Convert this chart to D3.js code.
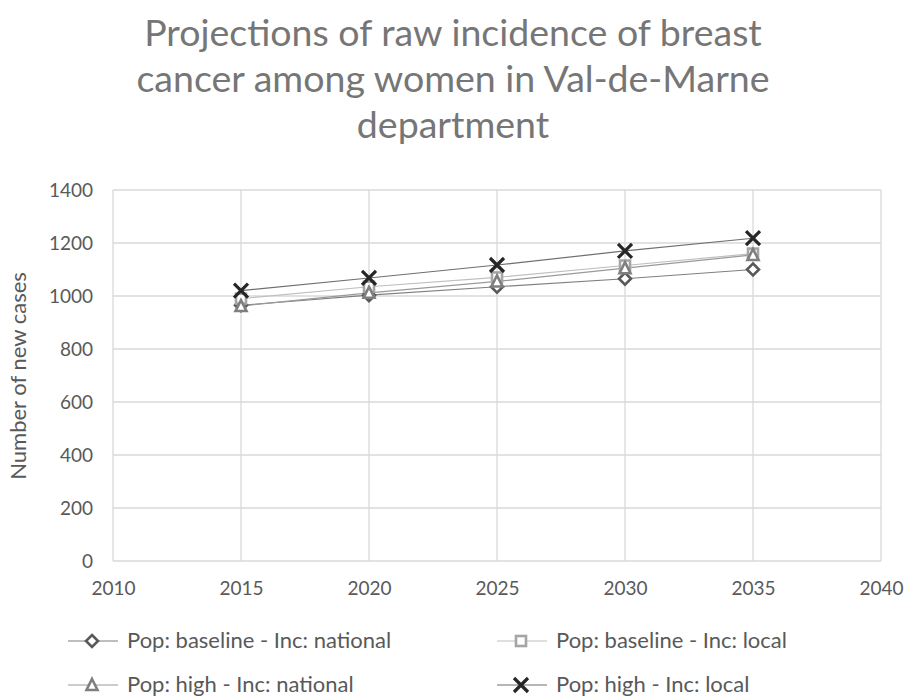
<!DOCTYPE html>
<html>
<head>
<meta charset="utf-8">
<script src="https://cdn.jsdelivr.net/npm/d3@7"></script>
<style>
  body { margin: 0; background: #fff; }
  text { font-family: Lato, "Open Sans", sans-serif; }
</style>
</head>
<body>
<svg id="chart" width="904" height="697"></svg>
<script>
// Data
var years = [2015, 2020, 2025, 2030, 2035];
var baseNational = [965, 1003, 1035, 1065, 1100];
var baseLocal = [990, 1035, 1070, 1115, 1160];
var highNational = [962, 1012, 1055, 1105, 1155];
var highLocal = [1020, 1068, 1117, 1170, 1218];
var seriesNames = ["Pop: baseline - Inc: national", "Pop: baseline - Inc: local",
                   "Pop: high - Inc: national", "Pop: high - Inc: local"];
var xTicks = [2010, 2015, 2020, 2025, 2030, 2035, 2040];
var yTicks = [0, 200, 400, 600, 800, 1000, 1200, 1400];
var titleLines = ["Projections of raw incidence of breast",
                  "cancer among women in Val-de-Marne",
                  "department"];

var svg = d3.select("#chart");
var margin = { top: 190, right: 23, bottom: 136, left: 113 };
var width = 904, height = 697;

var x = d3.scaleLinear().domain([2010, 2040]).range([margin.left, width - margin.right]);
var y = d3.scaleLinear().domain([0, 1400]).range([height - margin.bottom, margin.top]);

// Title
svg.append("g").selectAll("text")
    .data(titleLines)
    .enter().append("text")
    .attr("x", 453)
    .attr("y", function(d, i) { return 46 + i * 46; })
    .attr("text-anchor", "middle")
    .attr("fill", "#767676")
    .style("font-size", "37.5px")
    .text(function(d) { return d; });

// Gridlines
var grid = svg.append("g");
grid.selectAll(".hg").data(yTicks).enter().append("line")
    .attr("x1", x(2010)).attr("x2", x(2040))
    .attr("y1", function(d) { return y(d); }).attr("y2", function(d) { return y(d); })
    .attr("stroke", "#d9d9d9").attr("stroke-width", 1.3);
grid.selectAll(".vg").data(xTicks).enter().append("line")
    .attr("x1", function(d) { return x(d); }).attr("x2", function(d) { return x(d); })
    .attr("y1", y(1400)).attr("y2", y(0))
    .attr("stroke", "#d9d9d9").attr("stroke-width", 1.3);

// Axes
var xAxis = d3.axisBottom(x).tickValues(xTicks).tickSize(0).tickPadding(21).tickFormat(d3.format("d"));
var yAxis = d3.axisLeft(y).tickValues(yTicks).tickSize(0).tickPadding(20).tickFormat(d3.format("d"));
var gx = svg.append("g").attr("transform", "translate(0," + y(0) + ")").call(xAxis);
var gy = svg.append("g").attr("transform", "translate(" + x(2010) + ",0)").call(yAxis);
[gx, gy].forEach(function(g) {
    g.select(".domain").remove();
    g.selectAll("text").attr("fill", "#595959").style("font-size", "19px")
        .style("font-family", "Lato, sans-serif");
});

svg.append("text")
    .attr("transform", "translate(26," + 376 + ") rotate(-90)")
    .attr("text-anchor", "middle")
    .attr("fill", "#595959")
    .style("font-size", "22px")
    .text("Number of new cases");

// Series
var series = [
    { name: seriesNames[0], values: baseNational, color: "#595959", line: "#7f7f7f", marker: "diamond" },
    { name: seriesNames[1], values: baseLocal, color: "#a5a5a5", line: "#bfbfbf", marker: "square" },
    { name: seriesNames[2], values: highNational, color: "#7f7f7f", line: "#9a9a9a", marker: "triangle" },
    { name: seriesNames[3], values: highLocal, color: "#262626", line: "#6f6f6f", marker: "cross" }
];

var line = d3.line()
    .x(function(d, i) { return x(years[i]); })
    .y(function(d) { return y(d); });

series.forEach(function(s) {
    svg.append("path")
        .datum(s.values)
        .attr("d", line)
        .attr("fill", "none")
        .attr("stroke", s.line)
        .attr("stroke-width", 1.2);
});

function drawMarker(g, type, color, cx, cy) {
    if (type == "diamond") {
        g.append("path")
            .attr("d", "M" + cx + "," + (cy - 6) + "L" + (cx + 6) + "," + cy + "L" + cx + "," + (cy + 6) + "L" + (cx - 6) + "," + cy + "Z")
            .attr("fill", "#fff").attr("stroke", color).attr("stroke-width", 2.6);
    } else if (type == "square") {
        g.append("rect")
            .attr("x", cx - 5).attr("y", cy - 5).attr("width", 10).attr("height", 10)
            .attr("fill", "#fff").attr("stroke", color).attr("stroke-width", 2.6);
    } else if (type == "triangle") {
        g.append("path")
            .attr("d", "M" + cx + "," + (cy - 6) + "L" + (cx + 5.5) + "," + (cy + 5) + "L" + (cx - 5.5) + "," + (cy + 5) + "Z")
            .attr("fill", "#fff").attr("stroke", color).attr("stroke-width", 2.6);
    } else {
        g.append("path")
            .attr("d", "M" + (cx - 7) + "," + (cy - 7) + "L" + (cx + 7) + "," + (cy + 7) + "M" + (cx + 7) + "," + (cy - 7) + "L" + (cx - 7) + "," + (cy + 7))
            .attr("fill", "none").attr("stroke", color).attr("stroke-width", 3.2);
    }
}

series.forEach(function(s) {
    var g = svg.append("g");
    s.values.forEach(function(v, i) {
        drawMarker(g, s.marker, s.color, x(years[i]), y(v));
    });
});

// Legend
var legendPos = [[92, 641], [521, 641], [92, 685], [521, 685]];
series.forEach(function(s, i) {
    var g = svg.append("g");
    var lx = legendPos[i][0], ly = legendPos[i][1];
    g.append("line")
        .attr("x1", lx - 24).attr("x2", lx + 26)
        .attr("y1", ly).attr("y2", ly)
        .attr("stroke", s.line).attr("stroke-width", 1.2);
    drawMarker(g, s.marker, s.color, lx, ly);
    g.append("text")
        .attr("x", lx + 35).attr("y", ly + 7)
        .attr("fill", "#595959")
        .style("font-size", "22px")
        .text(s.name);
});
</script>
</body>
</html>
